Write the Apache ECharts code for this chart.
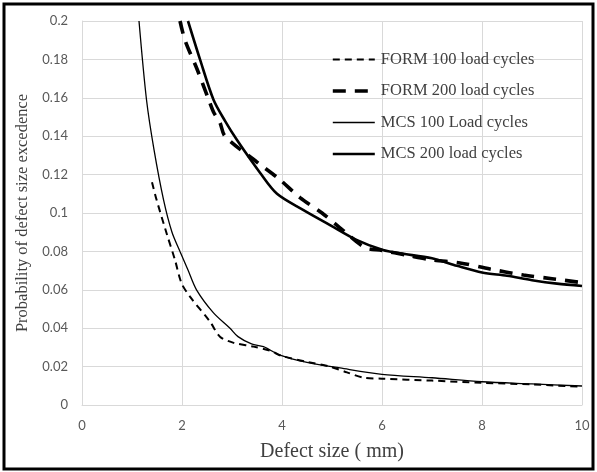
<!DOCTYPE html>
<html>
<head>
<meta charset="utf-8">
<script src="https://cdn.jsdelivr.net/npm/echarts@6/dist/echarts.min.js"></script>
<style>
html,body{margin:0;padding:0;background:#fff;}
#chart{width:597px;height:472px;}
</style>
</head>
<body>
<div id="chart"></div>
<script>
// Series data (defect size in mm, probability of exceedance)
const seriesNames = ['FORM 100 load cycles', 'FORM 200 load cycles', 'MCS 100 Load cycles', 'MCS 200 load cycles'];

const form100X = [1.40, 1.49, 1.69, 1.86, 1.99, 2.16, 2.56, 2.76, 3.02, 3.43, 3.76, 4.0, 4.5, 4.96, 5.3, 5.63, 6.0, 7.0, 8.0, 9.0, 10.0];
const form100Y = [0.116, 0.107, 0.0896, 0.0755, 0.0635, 0.0564, 0.0434, 0.0356, 0.0325, 0.0304, 0.0283, 0.0255, 0.0225, 0.020, 0.017, 0.0142, 0.0137, 0.0127, 0.0116, 0.0107, 0.0095];

const form200X = [1.96, 2.06, 2.30, 2.52, 2.63, 2.76, 2.86, 3.49, 3.93, 4.36, 4.80, 5.22, 5.66, 6.0, 6.5, 7.02, 7.56, 8.16, 8.83, 9.4, 10.0];
const form200Y = [0.200, 0.190, 0.175, 0.160, 0.1526, 0.147, 0.140, 0.1267, 0.118, 0.108, 0.100, 0.091, 0.082, 0.0805, 0.078, 0.0755, 0.074, 0.0708, 0.0677, 0.0658, 0.0637];

const mcs100X = [1.14, 1.29, 1.44, 1.63, 1.80, 1.96, 2.12, 2.29, 2.63, 2.96, 3.12, 3.39, 3.63, 3.96, 4.5, 5.16, 6.0, 7.0, 8.0, 9.0, 10.0];
const mcs100Y = [0.200, 0.159, 0.133, 0.107, 0.090, 0.080, 0.0703, 0.060, 0.048, 0.040, 0.0356, 0.0318, 0.0304, 0.026, 0.0222, 0.0193, 0.016, 0.0142, 0.0121, 0.011, 0.0099];

const mcs200X = [2.12, 2.36, 2.63, 2.86, 3.10, 3.56, 3.90, 4.43, 4.96, 5.49, 6.02, 6.36, 7.0, 7.5, 8.0, 8.5, 9.0, 9.5, 10.0];
const mcs200Y = [0.200, 0.180, 0.159, 0.148, 0.138, 0.121, 0.110, 0.1015, 0.0937, 0.086, 0.0807, 0.079, 0.0764, 0.0725, 0.069, 0.0673, 0.065, 0.0632, 0.0620];

// Axis ticks
const xTicks = [0, 2, 4, 6, 8, 10];
const yTicks = [0, 0.02, 0.04, 0.06, 0.08, 0.1, 0.12, 0.14, 0.16, 0.18, 0.2];

function zip(xs, ys) { return xs.map((x, i) => [x, ys[i]]); }

const chart = echarts.init(document.getElementById('chart'), null, {renderer: 'canvas'});

const tickFont = {color: '#595959', fontSize: 13, fontFamily: 'Lato, "Open Sans", sans-serif'};
const gridLine = {show: true, lineStyle: {color: '#d9d9d9', width: 1}};
const serif = '"Liberation Serif", "DejaVu Serif", serif';

const option = {
  backgroundColor: '#ffffff',
  animation: false,
  graphic: [{
    type: 'rect',
    shape: {x: 4, y: 4, width: 589, height: 465},
    style: {fill: 'none', stroke: '#000', lineWidth: 3},
    silent: true
  }],
  grid: {left: 82, right: 15, top: 21, bottom: 67},
  legend: {
    orient: 'vertical',
    left: 331,
    top: 51,
    padding: 0,
    itemWidth: 42,
    itemHeight: 14,
    itemGap: 14.5,
    itemStyle: {opacity: 0},
    lineStyle: {width: 'inherit'},
    textStyle: {fontFamily: serif, fontSize: 16.5, color: '#404040', padding: [0, 0, 0, 1]},
    data: seriesNames
  },
  xAxis: {
    type: 'value',
    min: xTicks[0],
    max: xTicks[xTicks.length - 1],
    interval: 2,
    name: 'Defect size ( mm)',
    nameLocation: 'middle',
    nameGap: 37,
    nameTextStyle: {fontFamily: serif, fontSize: 20, color: '#404040'},
    axisLine: {show: true, lineStyle: {color: '#d9d9d9'}},
    axisTick: {show: false},
    axisLabel: Object.assign({margin: 14}, tickFont),
    splitLine: gridLine
  },
  yAxis: {
    type: 'value',
    min: yTicks[0],
    max: yTicks[yTicks.length - 1],
    interval: 0.02,
    name: 'Probability of defect size excedence',
    nameLocation: 'middle',
    nameGap: 48,
    nameTextStyle: {fontFamily: serif, fontSize: 16.5, color: '#404040'},
    axisLine: {show: true, lineStyle: {color: '#d9d9d9'}},
    axisTick: {show: false},
    axisLabel: Object.assign({margin: 14}, tickFont),
    splitLine: gridLine
  },
  series: [
    {
      name: seriesNames[0], type: 'line', showSymbol: false, symbol: 'none', smooth: 0.3,
      data: zip(form100X, form100Y),
      lineStyle: {color: '#000', width: 2, type: [7, 5]},
      itemStyle: {color: '#000'}
    },
    {
      name: seriesNames[1], type: 'line', showSymbol: false, symbol: 'none', smooth: 0.3,
      data: zip(form200X, form200Y),
      lineStyle: {color: '#000', width: 3.6, type: [13, 9]},
      itemStyle: {color: '#000'}
    },
    {
      name: seriesNames[2], type: 'line', showSymbol: false, symbol: 'none', smooth: 0.3,
      data: zip(mcs100X, mcs100Y),
      lineStyle: {color: '#000', width: 1.3},
      itemStyle: {color: '#000'}
    },
    {
      name: seriesNames[3], type: 'line', showSymbol: false, symbol: 'none', smooth: 0.3,
      data: zip(mcs200X, mcs200Y),
      lineStyle: {color: '#000', width: 2.6},
      itemStyle: {color: '#000'}
    }
  ]
};
chart.setOption(option);
</script>
</body>
</html>
